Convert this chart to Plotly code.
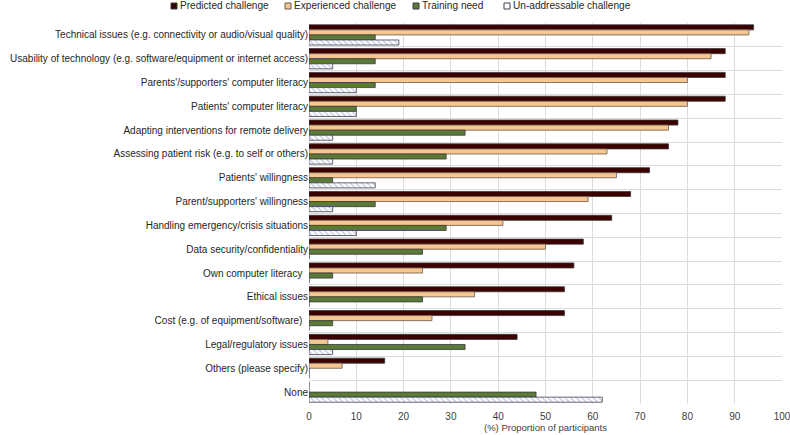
import plotly.graph_objects as go

categories = [
    "Technical issues (e.g. connectivity or audio/visual quality)",
    "Usability of technology (e.g. software/equipment or internet access)",
    "Parents'/supporters' computer literacy",
    "Patients' computer literacy",
    "Adapting interventions for remote delivery",
    "Assessing patient risk (e.g. to self or others)",
    "Patients' willingness",
    "Parent/supporters' willingness",
    "Handling emergency/crisis situations",
    "Data security/confidentiality",
    "Own computer literacy\u00a0\u00a0",
    "Ethical issues",
    "Cost (e.g. of equipment/software)\u00a0\u00a0",
    "Legal/regulatory issues",
    "Others (please specify)",
    "None",
]

predicted = [94, 88, 88, 88, 78, 76, 72, 68, 64, 58, 56, 54, 54, 44, 16, 0]
experienced = [93, 85, 80, 80, 76, 63, 65, 59, 41, 50, 24, 35, 26, 4, 7, 0]
training = [14, 14, 14, 10, 33, 29, 5, 14, 29, 24, 5, 24, 5, 33, 0, 48]
unaddressable = [19, 5, 10, 10, 5, 5, 14, 5, 10, 0, 0, 0, 0, 5, 0, 62]

series_names = ["Predicted challenge", "Experienced challenge", "Training need", "Un-addressable challenge"]
series_colors = ["#3b0000", "#f8c690", "#5b7a38", "white"]
series_borders = ["#3a3a3a", "#6b5a4a", "#3a3a3a", "#404050"]

x_ticks = list(range(0, 101, 10))

W, H = 790, 435
ML, MR, MT, MB = 309, 8, 23, 31
PW, PH = W - ML - MR, H - MT - MB


def px_x(p):
    return (p - ML) / PW


def px_y(p):
    return (H - MB - p) / PH


fig = go.Figure()
all_values = [predicted, experienced, training, unaddressable]
for i, (name, vals) in enumerate(zip(series_names, all_values)):
    marker = dict(color=series_colors[i], line=dict(color=series_borders[i], width=0.8))
    if i == 3:
        marker["pattern"] = dict(shape="\\", fgcolor="#8a9ac8", bgcolor="white", size=4, solidity=0.35)
    fig.add_trace(go.Bar(y=categories, x=vals, orientation="h", name=name,
                         marker=marker, showlegend=False))

# custom legend (small square swatches like the original)
legend_sq_left = [171, 285, 413, 504]
for i, name in enumerate(series_names):
    x0 = legend_sq_left[i]
    fig.add_shape(type="rect", xref="paper", yref="paper",
                  x0=px_x(x0), x1=px_x(x0 + 6), y0=px_y(9), y1=px_y(3),
                  fillcolor=series_colors[i], line=dict(color=series_borders[i], width=1))
    fig.add_annotation(text=name, xref="paper", yref="paper", x=px_x(x0 + 6.5), y=px_y(6),
                       xanchor="left", yanchor="middle", showarrow=False,
                       font=dict(size=10.1, color="#262626"))

fig.update_layout(
    width=W, height=H,
    margin=dict(l=ML, r=MR, t=MT, b=MB),
    paper_bgcolor="white", plot_bgcolor="white",
    font=dict(family="Liberation Sans, Arial, sans-serif", size=10, color="#262626"),
    barmode="group", bargap=0.15, bargroupgap=0,
    showlegend=False,
    xaxis=dict(range=[0, 100], tickvals=x_ticks, showgrid=True, gridcolor="#dcdcdc",
               gridwidth=1, zeroline=False, showline=False,
               ticks="outside", ticklen=3, tickcolor="rgba(0,0,0,0)",
               ticklabeloverflow="allow",
               tickfont=dict(size=10, color="#404040"),
               title=dict(text="(%) Proportion of participants", font=dict(size=9.5, color="#404040"),
                          standoff=2)),
    yaxis=dict(type="category", categoryorder="array", categoryarray=categories,
               autorange="reversed", tickson="boundaries", showgrid=True, gridcolor="#dcdcdc",
               ticks="outside", ticklen=7, tickcolor="rgba(0,0,0,0)", showline=False,
               tickfont=dict(size=10, color="#262626")),
)
fig.update_xaxes(automargin=False)
fig.update_yaxes(automargin=False)
fig.write_html("out.html", config={"displayModeBar": False},
               post_script="document.body.style.margin='0';")
